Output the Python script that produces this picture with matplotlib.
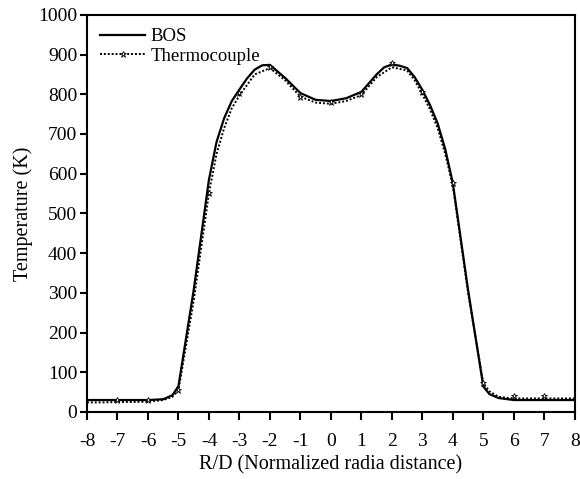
import matplotlib
matplotlib.use('Agg')
import matplotlib.pyplot as plt

# values
bos_x = [-8, -7, -6, -5.5, -5.2, -5, -4.5, -4, -3.75, -3.5, -3.25, -3, -2.75, -2.5, -2.25, -2,
         -1.5, -1, -0.5, 0, 0.5, 1, 1.5, 1.75, 2, 2.25, 2.5, 2.75, 3, 3.25, 3.5, 3.75, 4,
         4.5, 5, 5.2, 5.5, 6, 7, 8]
bos_y = [30, 30, 30, 32, 42, 65, 307, 585, 680, 740, 783, 812, 840, 862, 873, 874,
         841, 803, 786, 783, 790, 806, 850, 868, 875, 872, 866, 843, 811, 773, 727, 662, 576,
         307, 64, 45, 35, 30, 30, 30]

tc_line_x = [-8, -7.5, -7, -6.5, -6, -5.5, -5.2, -5, -4.5, -4, -3.75, -3.5, -3.25, -3, -2.5,
             -2, -1.5, -1, -0.5, 0, 0.5, 1, 1.5, 2, 2.5, 2.75, 3, 3.25, 3.5, 3.75, 4,
             4.5, 5, 5.2, 5.5, 6, 6.5, 7, 7.5, 8]
tc_line_y = [24, 24, 25, 25, 26, 30, 38, 55, 280, 551, 650, 715, 765, 797, 850,
             866, 835, 794, 779, 776, 783, 798, 843, 868, 860, 835, 800, 762, 715, 650, 570,
             300, 72, 52, 38, 34, 34, 34, 34, 34]

tc_x = [-7, -6, -5, -4, -3, -2, -1, 0, 1, 2, 3, 4, 5, 6, 7]
tc_y = [30, 30, 55, 551, 803, 869, 794, 781, 800, 878, 805, 576, 72, 40, 40]

plt.rcParams['font.family'] = ['Liberation Serif', 'DejaVu Serif']

fig = plt.figure(figsize=(5.8, 4.79), dpi=100)
ax = fig.add_axes([0.15, 0.14, 0.841, 0.829])

ax.plot(bos_x, bos_y, color='black', linewidth=1.6, label='BOS')
ax.plot(tc_line_x, tc_line_y, color='black', linewidth=1.4, linestyle=(0, (1, 1)))
ax.plot(tc_x, tc_y, linestyle='none', marker='*', markersize=5, markerfacecolor='white',
        markeredgecolor='black', markeredgewidth=0.6)
# legend entry for thermocouple: dotted line with marker
ax.plot([], [], color='black', linewidth=1.4, linestyle=(0, (1, 1)), marker='*',
        markersize=5, markerfacecolor='white', markeredgewidth=0.6, label='Thermocouple')

ax.set_xlim(-8, 8)
ax.set_ylim(0, 1000)
ax.set_xticks(range(-8, 9))
ax.set_yticks(range(0, 1001, 100))
ax.set_xticklabels([str(v) for v in range(-8, 9)])

for s in ax.spines.values():
    s.set_linewidth(1.5)
ax.tick_params(axis='both', direction='out', length=6, width=1.5, labelsize=14)
ax.tick_params(axis='x', pad=9)
ax.tick_params(axis='y', length=5, pad=2)

ax.set_xlabel('R/D (Normalized radia distance)', fontsize=14.5, labelpad=4)
ax.set_ylabel('Temperature (K)', fontsize=14.5, labelpad=4)

ax.legend(loc='upper left', frameon=False, fontsize=13.5, handlelength=2.4,
          handletextpad=0.3, borderaxespad=0.3, labelspacing=0.15)

fig.savefig('out.png', dpi=100)
